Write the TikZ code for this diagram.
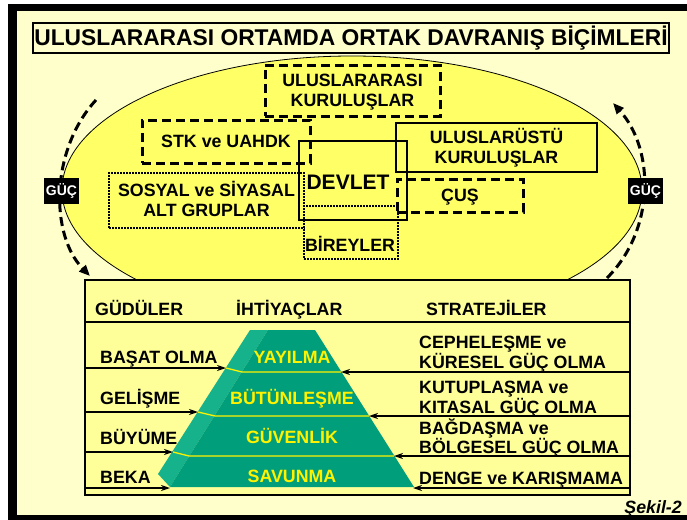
\documentclass[tikz,border=0pt]{standalone}
\usepackage{fontspec}
\setmainfont{Liberation Sans}
\usetikzlibrary{arrows.meta}

\definecolor{paleyellow}{HTML}{FFFFCC}
\definecolor{ovalyellow}{HTML}{FFFF66}
\definecolor{tableyellow}{HTML}{FFFF99}
\definecolor{pyrfront}{HTML}{009E7A}
\definecolor{pyrside}{HTML}{16B28C}

\begin{document}
\begin{tikzpicture}[x=1pt,y=-1pt,
  lbl/.style={font=\fontsize{17.8}{18}\selectfont\bfseries,inner sep=0pt,text height=12.8pt,text depth=0pt},
  boxlbl/.style={lbl,align=center,font=\fontsize{17.8}{20}\selectfont\bfseries,text height=32.8pt},
  twolines/.style={lbl,align=left,text height=30.8pt},
  dashbox/.style={draw,line width=3pt,dash pattern=on 9pt off 5pt},
  dotbox/.style={draw,line width=2.4pt,dash pattern=on 1.6pt off 1.4pt},
  solidbox/.style={draw,line width=1.8pt},
  guc/.style={fill=black,text=white,font=\fontsize{14}{14}\selectfont\bfseries,minimum width=35pt,minimum height=26pt,inner sep=0pt},
  gucarrow/.style={line width=3pt,dash pattern=on 9pt off 5pt,-{Triangle[length=11pt,width=9pt]}},
  push/.style={line width=1.5pt,-{Stealth[length=9pt,width=6pt]}},
  level/.style={yellow,line width=1.3pt}]

% Page and frame
\useasboundingbox (0,0) rectangle (687,519);
\clip (0,0) rectangle (687,519);
\fill[white] (0,0) rectangle (687,519);
\fill[black] (8,4) rectangle (700,530);
\fill[paleyellow] (17,11) rectangle (700,515);

% Title
\node[draw,line width=1.5pt,fill=paleyellow,minimum width=636pt,minimum height=30pt,inner sep=0pt,
  font=\fontsize{22.8}{22.8}\selectfont\bfseries] (title) at (351,38) {ULUSLARARASI ORTAMDA ORTAK DAVRANIŞ BİÇİMLERİ};

% The oval with the actors
\draw[fill=ovalyellow,line width=0.8pt] (352,190) ellipse [x radius=290,y radius=134];
\node[dashbox,boxlbl,minimum width=175pt,minimum height=51pt] (intl) at (352.5,90.5) {ULUSLARARASI\\KURULUŞLAR};
\node[dashbox,lbl,minimum width=168pt,minimum height=43pt] (stk) at (226,141.5) {STK ve UAHDK};
\node[solidbox,boxlbl,minimum width=201pt,minimum height=49pt] (supra) at (496.5,147.5) {ULUSLARÜSTÜ\\KURULUŞLAR};
\node[solidbox,minimum width=108pt,minimum height=79pt] (devlet) at (353,180.5) {};
\node[lbl,font=\fontsize{21}{21}\selectfont\bfseries,text height=15pt] (devlettext) at (348,182) {DEVLET};
\node[dashbox,lbl,minimum width=126pt,minimum height=33pt] (cus) at (460,195.5) {ÇUŞ};
\node[dotbox,boxlbl,minimum width=195pt,minimum height=55pt] (sosyal) at (206.5,200.5) {SOSYAL ve SİYASAL\\ALT GRUPLAR};
\node[dotbox,minimum width=94pt,minimum height=53pt] (birey) at (351,232.5) {};
\node[lbl] (bireytext) at (350,245) {BİREYLER};

% Power arrows round the oval
\coordinate (gucLtop) at (96,100);
\coordinate (gucLend) at (90,276);
\coordinate (gucRstart) at (607,278);
\coordinate (gucRtop) at (613,103);
\draw[gucarrow] (gucLtop) .. controls (50,150) and (50,235) .. (gucLend);
\draw[gucarrow] (gucRstart) .. controls (655,230) and (655,150) .. (gucRtop);
\node[guc] (gucL) at (61.5,191) {GÜÇ};
\node[guc] (gucR) at (645.5,191) {GÜÇ};

% Table
\node[draw,line width=1.5pt,fill=tableyellow,minimum width=545pt,minimum height=215pt,inner sep=0pt] (table) at (357.5,387.5) {};
\coordinate (head) at (0,322);
\draw[line width=1.5pt] (table.west |- head) -- (table.east |- head);
\node[lbl,anchor=west] (gudu) at (95,309) {GÜDÜLER};
\node[lbl,anchor=west] (ihti) at (236,309) {İHTİYAÇLAR};
\node[lbl,anchor=west] (strat) at (426,309) {STRATEJİLER};

% Pyramid
\fill[pyrside] (250,330) -- (268,330) -- (170,487) -- (158,474) -- cycle;
\fill[pyrfront] (268,330) -- (315,330) -- (414,487) -- (170,487) -- cycle;
\coordinate (l1) at (226,368); \coordinate (r1) at (341,372);
\coordinate (l2) at (198,412); \coordinate (r2) at (369,416);
\coordinate (l3) at (173,452); \coordinate (r3) at (394,456);
\coordinate (l4) at (170,488); \coordinate (r4) at (413,488);
\draw[level] (l1) -- (242,372) -- (r1);
\draw[level] (l2) -- (215,416) -- (r2);
\draw[level] (l3) -- (189,456) -- (r3);
\node[lbl,yellow] (yayilma) at (292,357) {YAYILMA};
\node[lbl,yellow] (butun) at (292,398) {BÜTÜNLEŞME};
\node[lbl,yellow] (guven) at (292,437) {GÜVENLİK};
\node[lbl,yellow] (savun) at (292,476) {SAVUNMA};

% Motives on the left
\node[lbl,anchor=west] (basat) at (100,357) {BAŞAT OLMA};
\node[lbl,anchor=west] (gelisme) at (100,398) {GELİŞME};
\node[lbl,anchor=west] (buyume) at (100,438) {BÜYÜME};
\node[lbl,anchor=west] (beka) at (100,477) {BEKA};
\foreach \i in {1,...,4}
  \draw[push] (table.west |- l\i) -- (l\i);

% Strategies on the right
\node[twolines,anchor=west] (cephe) at (419,353) {CEPHELEŞME ve\\KÜRESEL GÜÇ OLMA};
\node[twolines,anchor=west] (kutup) at (419,398) {KUTUPLAŞMA ve\\KITASAL GÜÇ OLMA};
\node[twolines,anchor=west] (bagda) at (419,438.5) {BAĞDAŞMA ve\\BÖLGESEL GÜÇ OLMA};
\node[lbl,anchor=west] (denge) at (419,478) {DENGE ve KARIŞMAMA};
\foreach \i in {1,...,4}
  \draw[push] (table.east |- r\i) -- (r\i);

% Figure number
\node[lbl,anchor=east,font=\fontsize{17.8}{18}\selectfont\bfseries\itshape] (sekil) at (682,507) {Şekil-2};

\end{tikzpicture}
\end{document}
